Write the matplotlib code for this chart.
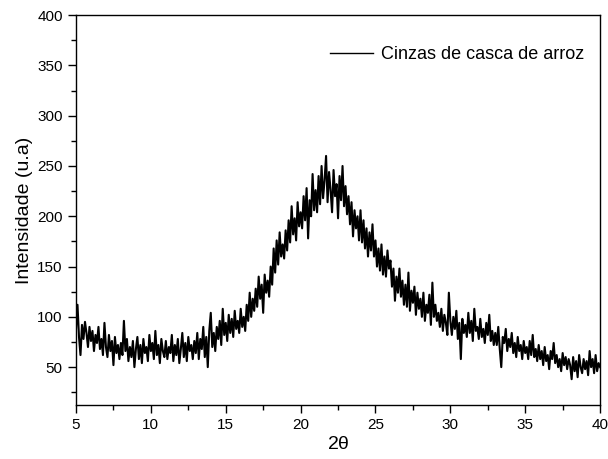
import numpy as np
import matplotlib.pyplot as plt
from matplotlib.ticker import MultipleLocator
from matplotlib.lines import Line2D

plt.rcParams['font.family'] = ['Liberation Sans', 'DejaVu Sans']

# 2theta de 5 a 40, passo 0.1
two_theta = np.round(np.arange(5.0, 40.05, 0.1), 1)

# intensidades (10 valores por grau)
intensity = [
    88, 112, 80, 62, 92, 78, 95, 84, 70, 90,
    76, 86, 66, 82, 74, 90, 68, 78, 62, 94,
    70, 60, 82, 66, 76, 52, 80, 64, 72, 58,
    74, 62, 96, 66, 78, 56, 70, 60, 76, 50,
    68, 80, 58, 72, 54, 78, 64, 70, 56, 82,
    66, 74, 58, 86, 62, 72, 54, 78, 66, 60,
    76, 58, 70, 64, 82, 56, 72, 62, 78, 54,
    68, 84, 60, 74, 56, 80, 66, 72, 58, 76,
    64, 84, 58, 78, 68, 90, 60, 80, 50, 86,
    104, 70, 84, 66, 90, 78, 96, 72, 108, 82,
    94, 76, 102, 84, 98, 80, 106, 88, 96, 84,
    108, 90, 100, 86, 112, 96, 124, 100, 118, 106,
    128, 110, 140, 118, 132, 104, 142, 124, 136, 120,
    150, 132, 168, 144, 176, 152, 184, 160, 172, 158,
    186, 166, 196, 174, 210, 182, 198, 176, 214, 190,
    204, 188, 220, 196, 228, 178, 216, 200, 242, 206,
    226, 204, 240, 212, 250, 218, 236, 260, 214, 244,
    226, 204, 246, 220, 232, 198, 240, 216, 250, 210,
    230, 202, 220, 192, 214, 180, 206, 188, 200, 176,
    206, 174, 196, 168, 188, 160, 184, 166, 192, 160,
    176, 150, 168, 146, 172, 142, 160, 140, 166, 148,
    156, 130, 148, 116, 140, 124, 148, 120, 136, 112,
    132, 110, 144, 106, 126, 114, 130, 102, 124, 108,
    118, 100, 124, 96, 112, 104, 122, 92, 134, 100,
    112, 96, 104, 90, 108, 86, 102, 94, 82, 124,
    96, 82, 100, 88, 106, 78, 94, 58, 98, 84,
    92, 80, 104, 84, 96, 76, 108, 86, 90, 78,
    98, 80, 88, 74, 94, 82, 102, 76, 86, 72,
    84, 72, 90, 68, 50, 80, 74, 88, 66, 78,
    70, 84, 64, 74, 60, 80, 66, 72, 58, 76,
    64, 70, 58, 76, 62, 82, 60, 68, 56, 72,
    58, 66, 52, 70, 56, 62, 48, 66, 58, 74,
    54, 62, 50, 58, 46, 64, 52, 60, 48, 58,
    52, 38, 60, 46, 56, 40, 62, 50, 44, 58,
    48, 56, 42, 66, 50, 58, 44, 62, 46, 54,
    50,
]

fig = plt.figure(figsize=(6.08, 4.59), dpi=100)
ax = fig.add_axes([0.125, 0.118, 0.862, 0.849])

ax.plot(two_theta, intensity, color='black', lw=1.5)

ax.set_xlim(5, 40)
ax.set_ylim(12.5, 400)
ax.xaxis.set_major_locator(MultipleLocator(5))
ax.xaxis.set_minor_locator(MultipleLocator(2.5))
ax.yaxis.set_minor_locator(MultipleLocator(25))
ax.set_yticks(np.arange(50, 401, 50))
ax.tick_params(which='major', direction='out', length=6, width=1, labelsize=11)
ax.tick_params(which='minor', direction='out', length=3.5, width=1)
ax.tick_params(top=False, right=False)
for s in ax.spines.values():
    s.set_linewidth(1.0)

ax.set_xlabel('2$\\mathregular{\\theta}$', fontsize=14, labelpad=3)
ax.set_ylabel('Intensidade (u.a)', fontsize=14, labelpad=3)

# legenda com linha fina, como no original
handle = Line2D([], [], color='black', lw=1.0)
ax.legend([handle], ['Cinzas de casca de arroz'], loc='upper right', frameon=False,
          fontsize=13, handlelength=2.4, handletextpad=0.4, bbox_to_anchor=(1.0, 0.962))

fig.savefig('out.png', dpi=100)
